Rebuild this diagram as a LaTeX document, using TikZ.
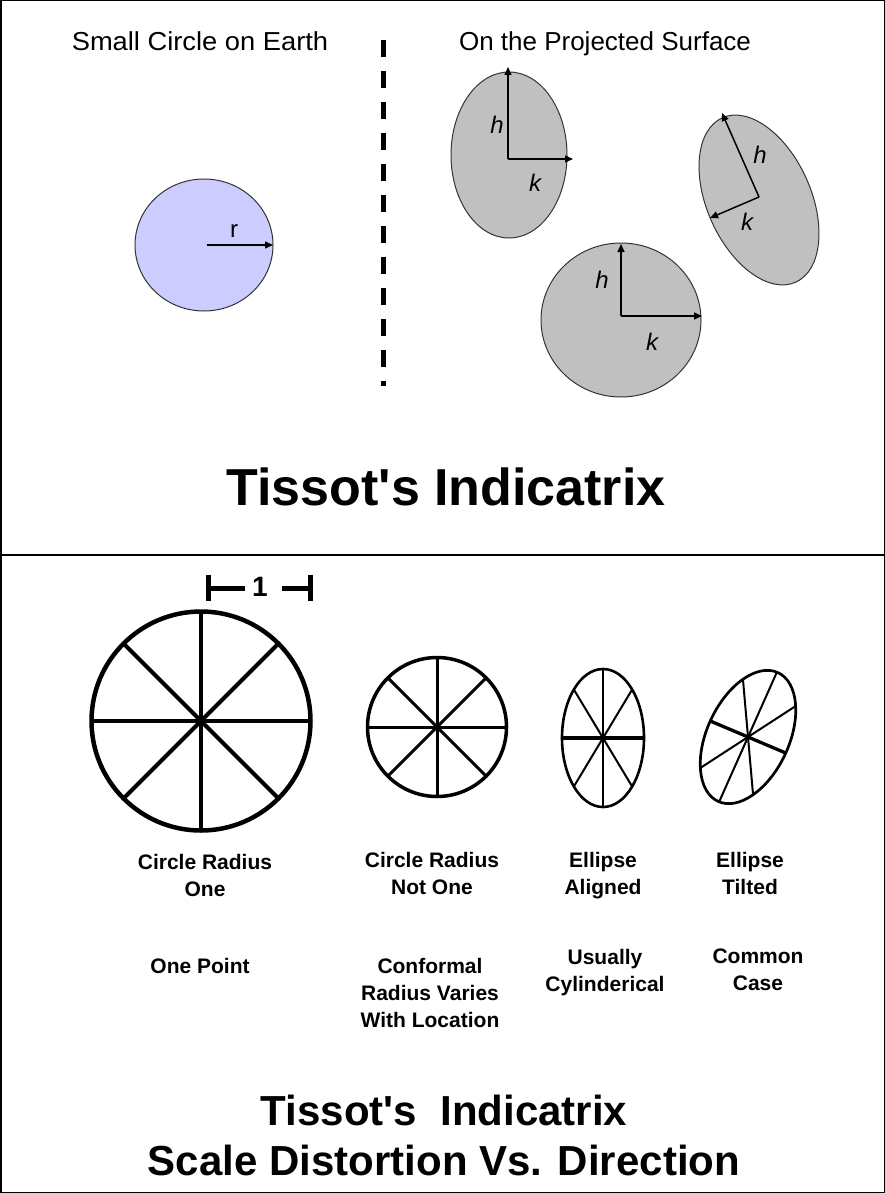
\documentclass[tikz,border=0pt]{standalone}
\usepackage{fontspec}
\setmainfont{Liberation Sans}
\usetikzlibrary{arrows.meta}
\definecolor{earthblue}{HTML}{CCCCFF}
\definecolor{projgray}{HTML}{C0C0C0}
\begin{document}
\begin{tikzpicture}[x=1pt,y=-1pt,
  lbl/.style={font=\fontsize{26}{30}\selectfont, inner sep=0pt, anchor=base},
  sub/.style={font=\bfseries\fontsize{21}{27}\selectfont, align=center, inner sep=0pt, anchor=north},
  var/.style={font=\itshape\fontsize{24}{28}\selectfont, inner sep=0pt},
  vec/.style={line width=1.5pt, -{Triangle[length=8pt,width=7pt]}},
  outl/.style={draw=black!80, line width=1pt},
  bar/.style={line width=5pt},
]
\useasboundingbox (0,0) rectangle (885,1193);
\draw[line width=1.5pt] (0.75,0.75) rectangle (884.25,1192.25);
\coordinate (dl) at (0,555); \coordinate (dr) at (885,555);
\draw[line width=2pt] (dl) -- (dr);

% ---------- top half ----------
\node[lbl, xscale=1.05] (t1) at (200,51) {Small Circle on Earth};
\node[lbl] (t2) at (605,51) {On the Projected Surface};
\coordinate (dtop) at (383,40); \coordinate (dbot) at (383,386);
\draw[line width=5pt, dash pattern=on 17pt off 14pt] (dtop) -- (dbot);

% earth circle
\coordinate (bc) at (204,245);
\draw[outl, fill=earthblue] (bc) ellipse [x radius=69pt, y radius=66pt];
\coordinate (bo) at (207,245); \coordinate (rt) at (273,245);
\draw[vec] (bo) -- (rt);
\node[font=\fontsize{24}{28}\selectfont, inner sep=0pt] (r) at (234,231) {r};

% ellipse 1
\coordinate (e1) at (509,155);
\draw[outl, fill=projgray] (e1) ellipse [x radius=58pt, y radius=83pt];
\coordinate (e1o) at (508,159); \coordinate (e1h) at (508,67); \coordinate (e1k) at (573,159);
\draw[vec] (e1o) -- (e1h); \draw[vec] (e1o) -- (e1k);
\node[var] (h1) at (497,125) {h};
\node[var] (k1) at (535,183) {k};

% ellipse 2 (tilted)
\coordinate (e2) at (759,200);
\draw[outl, fill=projgray, rotate around={114:(e2)}] (e2) ellipse [x radius=90pt, y radius=52pt];
\coordinate (e2o) at (759,197); \coordinate (e2h) at (722,113); \coordinate (e2k) at (710,218);
\draw[vec] (e2o) -- (e2h); \draw[vec] (e2o) -- (e2k);
\node[var] (h2) at (760,155) {h};
\node[var] (k2) at (747,222) {k};

% circle 3
\coordinate (e3) at (621,320);
\draw[outl, fill=projgray] (e3) ellipse [x radius=80pt, y radius=77pt];
\coordinate (e3o) at (621,316); \coordinate (e3h) at (621,244); \coordinate (e3k) at (702,316);
\draw[vec] (e3o) -- (e3h); \draw[vec] (e3o) -- (e3k);
\node[var] (h3) at (602,280) {h};
\node[var] (k3) at (652,342) {k};

\node[font=\bfseries\fontsize{52}{60}\selectfont] (title1) at (446,487) {Tissot\textquotesingle s Indicatrix};

% ---------- bottom half ----------
% scale bar
\coordinate (sL) at (208,588); \coordinate (sLi) at (245,588);
\coordinate (sRi) at (282,588); \coordinate (sR) at (310,588);
\node[font=\bfseries\fontsize{28}{32}\selectfont, inner sep=0pt] (one) at (260,587) {1};
\draw[bar] (sL) -- (sLi);
\draw[bar] (sRi) -- (sR);
\draw[bar] (sL) ++(0,-13) -- ++(0,26);
\draw[bar] (sR) ++(0,-13) -- ++(0,26);

% big circle
\coordinate (c1) at (201,721);
\begin{scope}
  \clip (c1) circle [radius=110pt];
  \foreach \a in {0,45,90,135} \draw[line width=4pt] (c1) ++(\a:130pt) -- ++(\a+180:260pt);
\end{scope}
\draw[line width=4.5pt] (c1) circle [radius=109.5pt];

% circle not one
\coordinate (c2) at (437,727);
\begin{scope}
  \clip (c2) circle [radius=69.5pt];
  \foreach \a in {0,45,90,135} \draw[line width=3pt] (c2) ++(\a:90pt) -- ++(\a+180:180pt);
\end{scope}
\draw[line width=3.5pt] (c2) circle [radius=69.5pt];

% aligned ellipse
\coordinate (c3) at (603,738);
\begin{scope}
  \clip (c3) ellipse [x radius=41pt, y radius=69pt];
  \foreach \a in {59,90,121} \draw[line width=2pt] (c3) ++(\a:90pt) -- ++(\a+180:180pt);
  \draw[line width=3.5pt] (c3) ++(0:90pt) -- ++(180:180pt);
\end{scope}
\draw[line width=2.6pt] (c3) ellipse [x radius=41pt, y radius=69pt];

% tilted ellipse
\coordinate (c4) at (748,737);
\begin{scope}
  \clip[rotate around={65:(c4)}] (c4) ellipse [x radius=71pt, y radius=41pt];
  \foreach \a in {95,66,33} \draw[line width=2pt] (c4) ++(\a:90pt) -- ++(\a+180:180pt);
  \draw[line width=3.3pt] (c4) ++(-23:90pt) -- ++(157:180pt);
\end{scope}
\draw[line width=2.7pt, rotate around={65:(c4)}] (c4) ellipse [x radius=71pt, y radius=41pt];

% labels
\node[sub] (l1) at (205,854) {Circle Radius\\One};
\node[sub] (l2) at (432,852) {Circle Radius\\Not One};
\node[sub] (l3) at (603,852) {Ellipse\\Aligned};
\node[sub] (l4) at (750,852) {Ellipse\\Tilted};
\node[sub] (m1) at (200,958) {One Point};
\node[sub] (m2) at (430,958) {Conformal\\Radius Varies\\With Location};
\node[sub] (m3) at (605,949) {Usually\\Cylinderical};
\node[sub] (m4) at (758,949) {Common\\Case};

\node[font=\bfseries\fontsize{42}{50}\selectfont, align=center] (title2) at (444,1135)
  {Tissot\textquotesingle s\ \ Indicatrix\\Scale Distortion Vs. Direction};
\end{tikzpicture}
\end{document}
